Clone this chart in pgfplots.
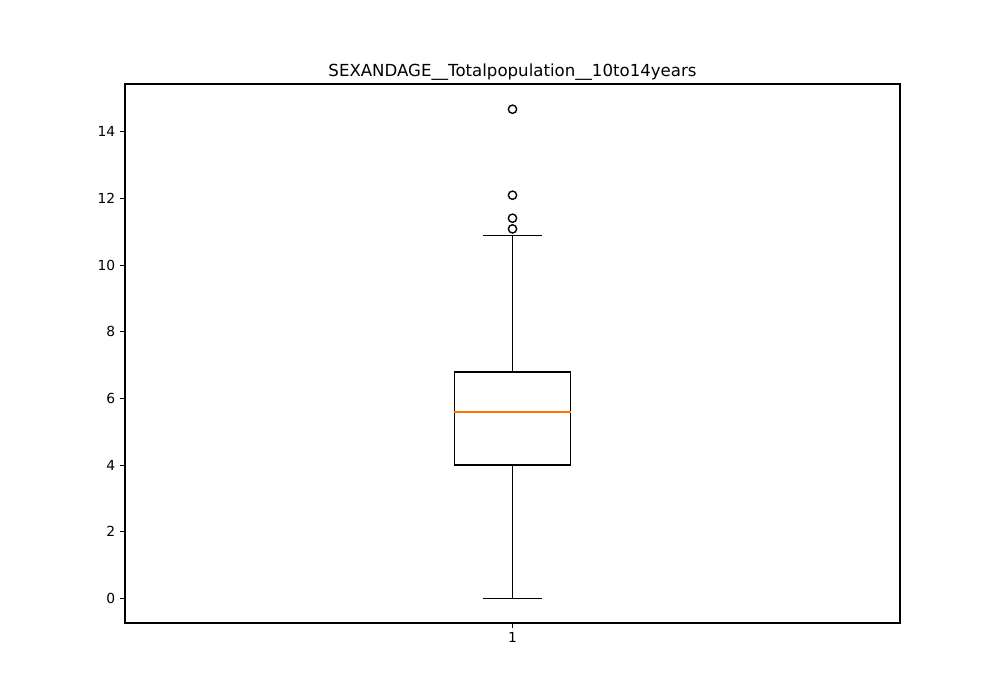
\documentclass[border=0pt]{standalone}
\usepackage{fontspec}
\setmainfont{DejaVu Sans}
\usepackage{pgfplots}
\pgfplotsset{compat=1.18}
\usepgfplotslibrary{statistics}

\begin{document}
\begin{tikzpicture}
  \begin{axis}[
    scale only axis,
    width=560.1pt, height=389.5pt,
    xmin=0.5, xmax=1.5,
    ymin=-0.735, ymax=15.435,
    xtick={1}, ytick={0,2,...,14},
    tick align=outside, tick pos=left,
    major tick length=3.5pt,
    tick style={line width=0.8pt, black},
    axis line style={line width=0.8pt},
    ticklabel style={font=\fontsize{10}{12}\selectfont},
    /pgf/number format/assume math mode=true,
    title={SEXANDAGE\_\_Totalpopulation\_\_10to14years},
    title style={font=\fontsize{12}{14}\selectfont, yshift=-7pt},
    boxplot/draw direction=y,
  ]
    \addplot[
      black, line width=1pt,
      mark=o, mark size=3pt, mark options={black, line width=1pt, fill=white},
      boxplot prepared={
        draw position=1,
        lower whisker=0.0,
        lower quartile=4.0,
        median=5.6,
        upper quartile=6.8,
        upper whisker=10.9,
        box extend=0.15,
        whisker extend=0.075,
        every box/.style={draw=black, line width=1pt},
        every whisker/.style={draw=black, line width=1pt},
        every median/.style={draw=orange!90!red, line width=1pt},
      },
    ] table[row sep=\\, y index=0] {
      11.09\\ 11.41\\ 12.10\\ 14.68\\
    };
  \end{axis}
  \path ([xshift=-90.34pt, yshift=-55.65pt]current axis.south west) rectangle ++(722.7pt, 505.89pt);
\end{tikzpicture}
\end{document}
